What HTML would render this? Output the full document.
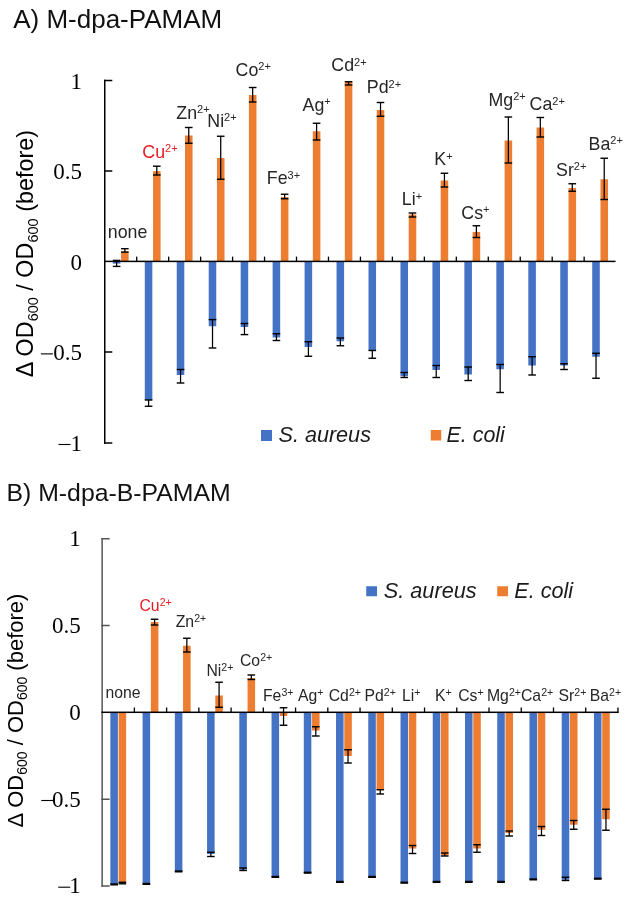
<!DOCTYPE html><html><head><meta charset="utf-8"><style>html,body{margin:0;padding:0;background:#fff;width:628px;height:901px;overflow:hidden}svg{display:block;will-change:transform;font-family:"Liberation Sans",sans-serif}.serif{font-family:"Liberation Serif",serif}</style></head><body><svg width="628" height="901" viewBox="0 0 628 901" class="root">
<rect width="628" height="901" fill="#fff"/>
<text x="13.2" y="28.2" font-size="26" fill="#111">A) M-dpa-PAMAM</text>
<text x="6.5" y="500.9" font-size="24.8" fill="#111">B) M-dpa-B-PAMAM</text>
<rect x="112.83" y="261.40" width="7.55" height="2.20" fill="#4472C4"/>
<rect x="121.08" y="251.50" width="7.55" height="9.90" fill="#ED7D31"/>
<rect x="144.79" y="261.40" width="7.55" height="138.60" fill="#4472C4"/>
<rect x="153.04" y="171.20" width="7.55" height="90.20" fill="#ED7D31"/>
<rect x="176.75" y="261.40" width="7.55" height="113.60" fill="#4472C4"/>
<rect x="185.00" y="135.50" width="7.55" height="125.90" fill="#ED7D31"/>
<rect x="208.71" y="261.40" width="7.55" height="64.85" fill="#4472C4"/>
<rect x="216.96" y="158.00" width="7.55" height="103.40" fill="#ED7D31"/>
<rect x="240.67" y="261.40" width="7.55" height="65.60" fill="#4472C4"/>
<rect x="248.92" y="95.00" width="7.55" height="166.40" fill="#ED7D31"/>
<rect x="272.63" y="261.40" width="7.55" height="76.10" fill="#4472C4"/>
<rect x="280.88" y="197.00" width="7.55" height="64.40" fill="#ED7D31"/>
<rect x="304.59" y="261.40" width="7.55" height="85.60" fill="#4472C4"/>
<rect x="312.84" y="131.25" width="7.55" height="130.15" fill="#ED7D31"/>
<rect x="336.55" y="261.40" width="7.55" height="79.85" fill="#4472C4"/>
<rect x="344.80" y="81.75" width="7.55" height="179.65" fill="#ED7D31"/>
<rect x="368.51" y="261.40" width="7.55" height="89.10" fill="#4472C4"/>
<rect x="376.76" y="110.00" width="7.55" height="151.40" fill="#ED7D31"/>
<rect x="400.47" y="261.40" width="7.55" height="114.85" fill="#4472C4"/>
<rect x="408.72" y="214.50" width="7.55" height="46.90" fill="#ED7D31"/>
<rect x="432.43" y="261.40" width="7.55" height="108.60" fill="#4472C4"/>
<rect x="440.68" y="180.50" width="7.55" height="80.90" fill="#ED7D31"/>
<rect x="464.39" y="261.40" width="7.55" height="113.10" fill="#4472C4"/>
<rect x="472.64" y="232.00" width="7.55" height="29.40" fill="#ED7D31"/>
<rect x="496.35" y="261.40" width="7.55" height="107.85" fill="#4472C4"/>
<rect x="504.60" y="140.50" width="7.55" height="120.90" fill="#ED7D31"/>
<rect x="528.31" y="261.40" width="7.55" height="104.10" fill="#4472C4"/>
<rect x="536.56" y="127.50" width="7.55" height="133.90" fill="#ED7D31"/>
<rect x="560.27" y="261.40" width="7.55" height="104.10" fill="#4472C4"/>
<rect x="568.52" y="188.00" width="7.55" height="73.40" fill="#ED7D31"/>
<rect x="592.23" y="261.40" width="7.55" height="95.35" fill="#4472C4"/>
<rect x="600.48" y="179.25" width="7.55" height="82.15" fill="#ED7D31"/>
<rect x="116.01" y="260.40" width="1.25" height="6.00" fill="#000"/>
<rect x="112.83" y="259.70" width="7.60" height="1.4" fill="#000"/>
<rect x="112.83" y="265.70" width="7.60" height="1.4" fill="#000"/>
<rect x="124.21" y="248.70" width="1.25" height="3.40" fill="#000"/>
<rect x="121.03" y="248.00" width="7.60" height="1.4" fill="#000"/>
<rect x="121.03" y="251.40" width="7.60" height="1.4" fill="#000"/>
<rect x="147.97" y="400.00" width="1.25" height="6.25" fill="#000"/>
<rect x="144.79" y="399.30" width="7.60" height="1.4" fill="#000"/>
<rect x="144.79" y="405.55" width="7.60" height="1.4" fill="#000"/>
<rect x="156.17" y="166.20" width="1.25" height="8.80" fill="#000"/>
<rect x="152.99" y="165.50" width="7.60" height="1.4" fill="#000"/>
<rect x="152.99" y="174.30" width="7.60" height="1.4" fill="#000"/>
<rect x="179.93" y="369.50" width="1.25" height="13.50" fill="#000"/>
<rect x="176.75" y="368.80" width="7.60" height="1.4" fill="#000"/>
<rect x="176.75" y="382.30" width="7.60" height="1.4" fill="#000"/>
<rect x="188.13" y="127.50" width="1.25" height="15.75" fill="#000"/>
<rect x="184.95" y="126.80" width="7.60" height="1.4" fill="#000"/>
<rect x="184.95" y="142.55" width="7.60" height="1.4" fill="#000"/>
<rect x="211.89" y="319.60" width="1.25" height="28.40" fill="#000"/>
<rect x="208.71" y="318.90" width="7.60" height="1.4" fill="#000"/>
<rect x="208.71" y="347.30" width="7.60" height="1.4" fill="#000"/>
<rect x="220.09" y="136.25" width="1.25" height="43.00" fill="#000"/>
<rect x="216.91" y="135.55" width="7.60" height="1.4" fill="#000"/>
<rect x="216.91" y="178.55" width="7.60" height="1.4" fill="#000"/>
<rect x="243.85" y="323.50" width="1.25" height="11.10" fill="#000"/>
<rect x="240.67" y="322.80" width="7.60" height="1.4" fill="#000"/>
<rect x="240.67" y="333.90" width="7.60" height="1.4" fill="#000"/>
<rect x="252.05" y="87.50" width="1.25" height="14.50" fill="#000"/>
<rect x="248.87" y="86.80" width="7.60" height="1.4" fill="#000"/>
<rect x="248.87" y="101.30" width="7.60" height="1.4" fill="#000"/>
<rect x="275.81" y="333.75" width="1.25" height="6.75" fill="#000"/>
<rect x="272.63" y="333.05" width="7.60" height="1.4" fill="#000"/>
<rect x="272.63" y="339.80" width="7.60" height="1.4" fill="#000"/>
<rect x="284.01" y="194.25" width="1.25" height="4.50" fill="#000"/>
<rect x="280.83" y="193.55" width="7.60" height="1.4" fill="#000"/>
<rect x="280.83" y="198.05" width="7.60" height="1.4" fill="#000"/>
<rect x="307.77" y="341.75" width="1.25" height="14.50" fill="#000"/>
<rect x="304.59" y="341.05" width="7.60" height="1.4" fill="#000"/>
<rect x="304.59" y="355.55" width="7.60" height="1.4" fill="#000"/>
<rect x="315.97" y="123.25" width="1.25" height="16.75" fill="#000"/>
<rect x="312.79" y="122.55" width="7.60" height="1.4" fill="#000"/>
<rect x="312.79" y="139.30" width="7.60" height="1.4" fill="#000"/>
<rect x="339.73" y="338.00" width="1.25" height="7.75" fill="#000"/>
<rect x="336.55" y="337.30" width="7.60" height="1.4" fill="#000"/>
<rect x="336.55" y="345.05" width="7.60" height="1.4" fill="#000"/>
<rect x="347.93" y="81.75" width="1.25" height="3.25" fill="#000"/>
<rect x="344.75" y="81.05" width="7.60" height="1.4" fill="#000"/>
<rect x="344.75" y="84.30" width="7.60" height="1.4" fill="#000"/>
<rect x="371.69" y="350.50" width="1.25" height="7.75" fill="#000"/>
<rect x="368.51" y="349.80" width="7.60" height="1.4" fill="#000"/>
<rect x="368.51" y="357.55" width="7.60" height="1.4" fill="#000"/>
<rect x="379.89" y="102.50" width="1.25" height="13.75" fill="#000"/>
<rect x="376.71" y="101.80" width="7.60" height="1.4" fill="#000"/>
<rect x="376.71" y="115.55" width="7.60" height="1.4" fill="#000"/>
<rect x="403.65" y="372.50" width="1.25" height="5.00" fill="#000"/>
<rect x="400.47" y="371.80" width="7.60" height="1.4" fill="#000"/>
<rect x="400.47" y="376.80" width="7.60" height="1.4" fill="#000"/>
<rect x="411.85" y="213.00" width="1.25" height="4.00" fill="#000"/>
<rect x="408.67" y="212.30" width="7.60" height="1.4" fill="#000"/>
<rect x="408.67" y="216.30" width="7.60" height="1.4" fill="#000"/>
<rect x="435.61" y="365.50" width="1.25" height="12.00" fill="#000"/>
<rect x="432.43" y="364.80" width="7.60" height="1.4" fill="#000"/>
<rect x="432.43" y="376.80" width="7.60" height="1.4" fill="#000"/>
<rect x="443.81" y="173.25" width="1.25" height="13.75" fill="#000"/>
<rect x="440.63" y="172.55" width="7.60" height="1.4" fill="#000"/>
<rect x="440.63" y="186.30" width="7.60" height="1.4" fill="#000"/>
<rect x="467.57" y="367.00" width="1.25" height="13.50" fill="#000"/>
<rect x="464.39" y="366.30" width="7.60" height="1.4" fill="#000"/>
<rect x="464.39" y="379.80" width="7.60" height="1.4" fill="#000"/>
<rect x="475.77" y="225.75" width="1.25" height="11.75" fill="#000"/>
<rect x="472.59" y="225.05" width="7.60" height="1.4" fill="#000"/>
<rect x="472.59" y="236.80" width="7.60" height="1.4" fill="#000"/>
<rect x="499.53" y="364.50" width="1.25" height="28.00" fill="#000"/>
<rect x="496.35" y="363.80" width="7.60" height="1.4" fill="#000"/>
<rect x="496.35" y="391.80" width="7.60" height="1.4" fill="#000"/>
<rect x="507.73" y="117.00" width="1.25" height="46.00" fill="#000"/>
<rect x="504.55" y="116.30" width="7.60" height="1.4" fill="#000"/>
<rect x="504.55" y="162.30" width="7.60" height="1.4" fill="#000"/>
<rect x="531.49" y="356.75" width="1.25" height="18.25" fill="#000"/>
<rect x="528.31" y="356.05" width="7.60" height="1.4" fill="#000"/>
<rect x="528.31" y="374.30" width="7.60" height="1.4" fill="#000"/>
<rect x="539.69" y="117.50" width="1.25" height="19.50" fill="#000"/>
<rect x="536.51" y="116.80" width="7.60" height="1.4" fill="#000"/>
<rect x="536.51" y="136.30" width="7.60" height="1.4" fill="#000"/>
<rect x="563.45" y="363.75" width="1.25" height="5.75" fill="#000"/>
<rect x="560.27" y="363.05" width="7.60" height="1.4" fill="#000"/>
<rect x="560.27" y="368.80" width="7.60" height="1.4" fill="#000"/>
<rect x="571.65" y="183.75" width="1.25" height="7.50" fill="#000"/>
<rect x="568.47" y="183.05" width="7.60" height="1.4" fill="#000"/>
<rect x="568.47" y="190.55" width="7.60" height="1.4" fill="#000"/>
<rect x="595.41" y="353.25" width="1.25" height="25.00" fill="#000"/>
<rect x="592.23" y="352.55" width="7.60" height="1.4" fill="#000"/>
<rect x="592.23" y="377.55" width="7.60" height="1.4" fill="#000"/>
<rect x="603.61" y="158.25" width="1.25" height="41.25" fill="#000"/>
<rect x="600.43" y="157.55" width="7.60" height="1.4" fill="#000"/>
<rect x="600.43" y="198.80" width="7.60" height="1.4" fill="#000"/>
<rect x="104.00" y="79.75" width="1.5" height="364.00" fill="#000"/>
<rect x="104.00" y="79.75" width="8.3" height="1.5" fill="#000"/>
<rect x="104.00" y="170.25" width="8.3" height="1.5" fill="#000"/>
<rect x="104.00" y="351.25" width="8.3" height="1.5" fill="#000"/>
<rect x="104.00" y="442.25" width="8.3" height="1.5" fill="#000"/>
<rect x="104.00" y="260.65" width="511.55" height="1.5" fill="#000"/>
<rect x="136.06" y="256.60" width="1.3" height="4.8" fill="#000"/>
<rect x="168.02" y="256.60" width="1.3" height="4.8" fill="#000"/>
<rect x="199.98" y="256.60" width="1.3" height="4.8" fill="#000"/>
<rect x="231.94" y="256.60" width="1.3" height="4.8" fill="#000"/>
<rect x="263.90" y="256.60" width="1.3" height="4.8" fill="#000"/>
<rect x="295.86" y="256.60" width="1.3" height="4.8" fill="#000"/>
<rect x="327.82" y="256.60" width="1.3" height="4.8" fill="#000"/>
<rect x="359.78" y="256.60" width="1.3" height="4.8" fill="#000"/>
<rect x="391.74" y="256.60" width="1.3" height="4.8" fill="#000"/>
<rect x="423.70" y="256.60" width="1.3" height="4.8" fill="#000"/>
<rect x="455.66" y="256.60" width="1.3" height="4.8" fill="#000"/>
<rect x="487.62" y="256.60" width="1.3" height="4.8" fill="#000"/>
<rect x="519.58" y="256.60" width="1.3" height="4.8" fill="#000"/>
<rect x="551.54" y="256.60" width="1.3" height="4.8" fill="#000"/>
<rect x="583.50" y="256.60" width="1.3" height="4.8" fill="#000"/>
<text x="107.80" y="237.60" font-size="17.8" fill="#262626">none<tspan font-size="11" dy="-5.4"></tspan></text>
<text x="142.30" y="157.60" font-size="17.8" fill="#E81C24">Cu<tspan font-size="11" dy="-5.4">2+</tspan></text>
<text x="176.30" y="118.75" font-size="17.8" fill="#262626">Zn<tspan font-size="11" dy="-5.4">2+</tspan></text>
<text x="207.30" y="126.50" font-size="17.8" fill="#262626">Ni<tspan font-size="11" dy="-5.4">2+</tspan></text>
<text x="235.55" y="75.50" font-size="17.8" fill="#262626">Co<tspan font-size="11" dy="-5.4">2+</tspan></text>
<text x="266.80" y="184.25" font-size="17.8" fill="#262626">Fe<tspan font-size="11" dy="-5.4">3+</tspan></text>
<text x="302.55" y="110.75" font-size="17.8" fill="#262626">Ag<tspan font-size="11" dy="-5.4">+</tspan></text>
<text x="331.30" y="71.25" font-size="17.8" fill="#262626">Cd<tspan font-size="11" dy="-5.4">2+</tspan></text>
<text x="366.80" y="93.00" font-size="17.8" fill="#262626">Pd<tspan font-size="11" dy="-5.4">2+</tspan></text>
<text x="401.80" y="205.00" font-size="17.8" fill="#262626">Li<tspan font-size="11" dy="-5.4">+</tspan></text>
<text x="434.30" y="165.00" font-size="17.8" fill="#262626">K<tspan font-size="11" dy="-5.4">+</tspan></text>
<text x="461.30" y="218.75" font-size="17.8" fill="#262626">Cs<tspan font-size="11" dy="-5.4">+</tspan></text>
<text x="488.55" y="105.50" font-size="17.8" fill="#262626">Mg<tspan font-size="11" dy="-5.4">2+</tspan></text>
<text x="529.55" y="110.00" font-size="17.8" fill="#262626">Ca<tspan font-size="11" dy="-5.4">2+</tspan></text>
<text x="556.05" y="175.50" font-size="17.8" fill="#262626">Sr<tspan font-size="11" dy="-5.4">2+</tspan></text>
<text x="588.55" y="149.50" font-size="17.8" fill="#262626">Ba<tspan font-size="11" dy="-5.4">2+</tspan></text>
<text x="82.10" y="88.60" class="serif" font-size="23" text-anchor="end" fill="#000">1</text>
<text x="82.10" y="179.10" class="serif" font-size="23" text-anchor="end" fill="#000">0.5</text>
<text x="82.10" y="269.60" class="serif" font-size="23" text-anchor="end" fill="#000">0</text>
<rect x="40.90" y="353.35" width="12.0" height="1.1" fill="#000"/>
<text x="82.10" y="360.10" class="serif" font-size="23" text-anchor="end" fill="#000">0.5</text>
<rect x="58.50" y="443.95" width="12.0" height="1.1" fill="#000"/>
<text x="82.10" y="450.60" class="serif" font-size="23" text-anchor="end" fill="#000">1</text>
<g transform="translate(33.00,253.60) rotate(-90)"><text x="0" y="0" text-anchor="middle" font-size="23.4" fill="#000">Δ OD<tspan font-size="14.5" dy="4.7">600</tspan><tspan dy="-4.7"> / OD</tspan><tspan font-size="14.5" dy="4.7">600</tspan><tspan dy="-4.7"> (before)</tspan></text></g>
<rect x="261.00" y="430.00" width="11.00" height="11.00" fill="#4472C4"/>
<text x="278.5" y="442" font-size="21.6" font-style="italic" fill="#1a1a1a">S. aureus</text>
<rect x="430.75" y="430.00" width="10.50" height="10.50" fill="#ED7D31"/>
<text x="446.6" y="442" font-size="21.4" font-style="italic" fill="#1a1a1a">E. coli</text>
<rect x="110.35" y="712.30" width="7.55" height="172.45" fill="#4472C4"/>
<rect x="118.60" y="712.30" width="7.55" height="170.70" fill="#ED7D31"/>
<rect x="142.59" y="712.30" width="7.55" height="171.95" fill="#4472C4"/>
<rect x="150.84" y="622.00" width="7.55" height="90.30" fill="#ED7D31"/>
<rect x="174.83" y="712.30" width="7.55" height="159.45" fill="#4472C4"/>
<rect x="183.08" y="645.75" width="7.55" height="66.55" fill="#ED7D31"/>
<rect x="207.07" y="712.30" width="7.55" height="141.70" fill="#4472C4"/>
<rect x="215.32" y="695.50" width="7.55" height="16.80" fill="#ED7D31"/>
<rect x="239.31" y="712.30" width="7.55" height="157.45" fill="#4472C4"/>
<rect x="247.56" y="678.00" width="7.55" height="34.30" fill="#ED7D31"/>
<rect x="271.55" y="712.30" width="7.55" height="164.95" fill="#4472C4"/>
<rect x="279.80" y="712.30" width="7.55" height="3.70" fill="#ED7D31"/>
<rect x="303.79" y="712.30" width="7.55" height="160.70" fill="#4472C4"/>
<rect x="312.04" y="712.30" width="7.55" height="18.20" fill="#ED7D31"/>
<rect x="336.03" y="712.30" width="7.55" height="169.95" fill="#4472C4"/>
<rect x="344.28" y="712.30" width="7.55" height="43.70" fill="#ED7D31"/>
<rect x="368.27" y="712.30" width="7.55" height="164.95" fill="#4472C4"/>
<rect x="376.52" y="712.30" width="7.55" height="77.45" fill="#ED7D31"/>
<rect x="400.51" y="712.30" width="7.55" height="170.70" fill="#4472C4"/>
<rect x="408.76" y="712.30" width="7.55" height="136.20" fill="#ED7D31"/>
<rect x="432.75" y="712.30" width="7.55" height="169.95" fill="#4472C4"/>
<rect x="441.00" y="712.30" width="7.55" height="143.20" fill="#ED7D31"/>
<rect x="464.99" y="712.30" width="7.55" height="169.95" fill="#4472C4"/>
<rect x="473.24" y="712.30" width="7.55" height="136.20" fill="#ED7D31"/>
<rect x="497.23" y="712.30" width="7.55" height="169.95" fill="#4472C4"/>
<rect x="505.48" y="712.30" width="7.55" height="120.70" fill="#ED7D31"/>
<rect x="529.47" y="712.30" width="7.55" height="167.45" fill="#4472C4"/>
<rect x="537.72" y="712.30" width="7.55" height="117.45" fill="#ED7D31"/>
<rect x="561.71" y="712.30" width="7.55" height="167.45" fill="#4472C4"/>
<rect x="569.96" y="712.30" width="7.55" height="112.45" fill="#ED7D31"/>
<rect x="593.95" y="712.30" width="7.55" height="166.70" fill="#4472C4"/>
<rect x="602.20" y="712.30" width="7.55" height="106.95" fill="#ED7D31"/>
<rect x="113.53" y="884.00" width="1.25" height="0.80" fill="#000"/>
<rect x="110.35" y="883.30" width="7.60" height="1.4" fill="#000"/>
<rect x="110.35" y="884.10" width="7.60" height="1.4" fill="#000"/>
<rect x="121.73" y="882.30" width="1.25" height="1.50" fill="#000"/>
<rect x="118.55" y="881.60" width="7.60" height="1.4" fill="#000"/>
<rect x="118.55" y="883.10" width="7.60" height="1.4" fill="#000"/>
<rect x="145.77" y="883.50" width="1.25" height="0.80" fill="#000"/>
<rect x="142.59" y="882.80" width="7.60" height="1.4" fill="#000"/>
<rect x="142.59" y="883.60" width="7.60" height="1.4" fill="#000"/>
<rect x="153.97" y="619.25" width="1.25" height="5.75" fill="#000"/>
<rect x="150.79" y="618.55" width="7.60" height="1.4" fill="#000"/>
<rect x="150.79" y="624.30" width="7.60" height="1.4" fill="#000"/>
<rect x="178.01" y="871.00" width="1.25" height="0.80" fill="#000"/>
<rect x="174.83" y="870.30" width="7.60" height="1.4" fill="#000"/>
<rect x="174.83" y="871.10" width="7.60" height="1.4" fill="#000"/>
<rect x="186.21" y="638.25" width="1.25" height="13.75" fill="#000"/>
<rect x="183.03" y="637.55" width="7.60" height="1.4" fill="#000"/>
<rect x="183.03" y="651.30" width="7.60" height="1.4" fill="#000"/>
<rect x="210.25" y="852.25" width="1.25" height="4.25" fill="#000"/>
<rect x="207.07" y="851.55" width="7.60" height="1.4" fill="#000"/>
<rect x="207.07" y="855.80" width="7.60" height="1.4" fill="#000"/>
<rect x="218.45" y="682.25" width="1.25" height="25.00" fill="#000"/>
<rect x="215.27" y="681.55" width="7.60" height="1.4" fill="#000"/>
<rect x="215.27" y="706.55" width="7.60" height="1.4" fill="#000"/>
<rect x="242.49" y="868.00" width="1.25" height="2.50" fill="#000"/>
<rect x="239.31" y="867.30" width="7.60" height="1.4" fill="#000"/>
<rect x="239.31" y="869.80" width="7.60" height="1.4" fill="#000"/>
<rect x="250.69" y="675.00" width="1.25" height="4.50" fill="#000"/>
<rect x="247.51" y="674.30" width="7.60" height="1.4" fill="#000"/>
<rect x="247.51" y="678.80" width="7.60" height="1.4" fill="#000"/>
<rect x="274.73" y="876.50" width="1.25" height="0.80" fill="#000"/>
<rect x="271.55" y="875.80" width="7.60" height="1.4" fill="#000"/>
<rect x="271.55" y="876.60" width="7.60" height="1.4" fill="#000"/>
<rect x="282.93" y="707.75" width="1.25" height="17.50" fill="#000"/>
<rect x="279.75" y="707.05" width="7.60" height="1.4" fill="#000"/>
<rect x="279.75" y="724.55" width="7.60" height="1.4" fill="#000"/>
<rect x="306.97" y="872.30" width="1.25" height="0.80" fill="#000"/>
<rect x="303.79" y="871.60" width="7.60" height="1.4" fill="#000"/>
<rect x="303.79" y="872.40" width="7.60" height="1.4" fill="#000"/>
<rect x="315.17" y="726.75" width="1.25" height="9.25" fill="#000"/>
<rect x="311.99" y="726.05" width="7.60" height="1.4" fill="#000"/>
<rect x="311.99" y="735.30" width="7.60" height="1.4" fill="#000"/>
<rect x="339.21" y="881.50" width="1.25" height="0.80" fill="#000"/>
<rect x="336.03" y="880.80" width="7.60" height="1.4" fill="#000"/>
<rect x="336.03" y="881.60" width="7.60" height="1.4" fill="#000"/>
<rect x="347.41" y="749.75" width="1.25" height="13.25" fill="#000"/>
<rect x="344.23" y="749.05" width="7.60" height="1.4" fill="#000"/>
<rect x="344.23" y="762.30" width="7.60" height="1.4" fill="#000"/>
<rect x="371.45" y="876.50" width="1.25" height="0.80" fill="#000"/>
<rect x="368.27" y="875.80" width="7.60" height="1.4" fill="#000"/>
<rect x="368.27" y="876.60" width="7.60" height="1.4" fill="#000"/>
<rect x="379.65" y="789.75" width="1.25" height="4.25" fill="#000"/>
<rect x="376.47" y="789.05" width="7.60" height="1.4" fill="#000"/>
<rect x="376.47" y="793.30" width="7.60" height="1.4" fill="#000"/>
<rect x="403.69" y="882.30" width="1.25" height="0.80" fill="#000"/>
<rect x="400.51" y="881.60" width="7.60" height="1.4" fill="#000"/>
<rect x="400.51" y="882.40" width="7.60" height="1.4" fill="#000"/>
<rect x="411.89" y="845.50" width="1.25" height="8.00" fill="#000"/>
<rect x="408.71" y="844.80" width="7.60" height="1.4" fill="#000"/>
<rect x="408.71" y="852.80" width="7.60" height="1.4" fill="#000"/>
<rect x="435.93" y="881.50" width="1.25" height="0.80" fill="#000"/>
<rect x="432.75" y="880.80" width="7.60" height="1.4" fill="#000"/>
<rect x="432.75" y="881.60" width="7.60" height="1.4" fill="#000"/>
<rect x="444.13" y="853.00" width="1.25" height="3.00" fill="#000"/>
<rect x="440.95" y="852.30" width="7.60" height="1.4" fill="#000"/>
<rect x="440.95" y="855.30" width="7.60" height="1.4" fill="#000"/>
<rect x="468.17" y="881.50" width="1.25" height="0.80" fill="#000"/>
<rect x="464.99" y="880.80" width="7.60" height="1.4" fill="#000"/>
<rect x="464.99" y="881.60" width="7.60" height="1.4" fill="#000"/>
<rect x="476.37" y="844.75" width="1.25" height="7.50" fill="#000"/>
<rect x="473.19" y="844.05" width="7.60" height="1.4" fill="#000"/>
<rect x="473.19" y="851.55" width="7.60" height="1.4" fill="#000"/>
<rect x="500.41" y="881.50" width="1.25" height="0.80" fill="#000"/>
<rect x="497.23" y="880.80" width="7.60" height="1.4" fill="#000"/>
<rect x="497.23" y="881.60" width="7.60" height="1.4" fill="#000"/>
<rect x="508.61" y="831.00" width="1.25" height="5.00" fill="#000"/>
<rect x="505.43" y="830.30" width="7.60" height="1.4" fill="#000"/>
<rect x="505.43" y="835.30" width="7.60" height="1.4" fill="#000"/>
<rect x="532.65" y="879.00" width="1.25" height="0.80" fill="#000"/>
<rect x="529.47" y="878.30" width="7.60" height="1.4" fill="#000"/>
<rect x="529.47" y="879.10" width="7.60" height="1.4" fill="#000"/>
<rect x="540.85" y="826.50" width="1.25" height="9.00" fill="#000"/>
<rect x="537.67" y="825.80" width="7.60" height="1.4" fill="#000"/>
<rect x="537.67" y="834.80" width="7.60" height="1.4" fill="#000"/>
<rect x="564.89" y="877.25" width="1.25" height="3.25" fill="#000"/>
<rect x="561.71" y="876.55" width="7.60" height="1.4" fill="#000"/>
<rect x="561.71" y="879.80" width="7.60" height="1.4" fill="#000"/>
<rect x="573.09" y="820.50" width="1.25" height="8.75" fill="#000"/>
<rect x="569.91" y="819.80" width="7.60" height="1.4" fill="#000"/>
<rect x="569.91" y="828.55" width="7.60" height="1.4" fill="#000"/>
<rect x="597.13" y="878.30" width="1.25" height="0.80" fill="#000"/>
<rect x="593.95" y="877.60" width="7.60" height="1.4" fill="#000"/>
<rect x="593.95" y="878.40" width="7.60" height="1.4" fill="#000"/>
<rect x="605.33" y="809.25" width="1.25" height="21.00" fill="#000"/>
<rect x="602.15" y="808.55" width="7.60" height="1.4" fill="#000"/>
<rect x="602.15" y="829.55" width="7.60" height="1.4" fill="#000"/>
<rect x="101.38" y="538.00" width="1.5" height="348.75" fill="#555"/>
<rect x="101.38" y="538.00" width="8.3" height="1.5" fill="#555"/>
<rect x="101.38" y="624.75" width="8.3" height="1.5" fill="#555"/>
<rect x="101.38" y="798.50" width="8.3" height="1.5" fill="#555"/>
<rect x="101.38" y="885.25" width="8.3" height="1.5" fill="#555"/>
<rect x="101.38" y="711.55" width="517.34" height="1.5" fill="#000"/>
<rect x="133.72" y="707.50" width="1.3" height="4.8" fill="#000"/>
<rect x="165.96" y="707.50" width="1.3" height="4.8" fill="#000"/>
<rect x="198.20" y="707.50" width="1.3" height="4.8" fill="#000"/>
<rect x="230.44" y="707.50" width="1.3" height="4.8" fill="#000"/>
<rect x="262.68" y="707.50" width="1.3" height="4.8" fill="#000"/>
<rect x="294.92" y="707.50" width="1.3" height="4.8" fill="#000"/>
<rect x="327.16" y="707.50" width="1.3" height="4.8" fill="#000"/>
<rect x="359.40" y="707.50" width="1.3" height="4.8" fill="#000"/>
<rect x="391.64" y="707.50" width="1.3" height="4.8" fill="#000"/>
<rect x="423.88" y="707.50" width="1.3" height="4.8" fill="#000"/>
<rect x="456.12" y="707.50" width="1.3" height="4.8" fill="#000"/>
<rect x="488.36" y="707.50" width="1.3" height="4.8" fill="#000"/>
<rect x="520.60" y="707.50" width="1.3" height="4.8" fill="#000"/>
<rect x="552.84" y="707.50" width="1.3" height="4.8" fill="#000"/>
<rect x="585.08" y="707.50" width="1.3" height="4.8" fill="#000"/>
<rect x="617.32" y="707.50" width="1.3" height="4.8" fill="#000"/>
<text x="105.50" y="697.50" font-size="15.75" fill="#262626">none<tspan font-size="10.6" dy="-5.0"></tspan></text>
<text x="139.50" y="610.50" font-size="15.75" fill="#E81C24">Cu<tspan font-size="10.6" dy="-5.0">2+</tspan></text>
<text x="175.75" y="627.00" font-size="15.75" fill="#262626">Zn<tspan font-size="10.6" dy="-5.0">2+</tspan></text>
<text x="206.40" y="675.50" font-size="15.75" fill="#262626">Ni<tspan font-size="10.6" dy="-5.0">2+</tspan></text>
<text x="240.00" y="665.75" font-size="15.75" fill="#262626">Co<tspan font-size="10.6" dy="-5.0">2+</tspan></text>
<text x="263.00" y="701.00" font-size="15.75" fill="#262626">Fe<tspan font-size="10.6" dy="-5.0">3+</tspan></text>
<text x="298.00" y="701.00" font-size="15.75" fill="#262626">Ag<tspan font-size="10.6" dy="-5.0">+</tspan></text>
<text x="328.75" y="701.00" font-size="15.75" fill="#262626">Cd<tspan font-size="10.6" dy="-5.0">2+</tspan></text>
<text x="364.50" y="701.00" font-size="15.75" fill="#262626">Pd<tspan font-size="10.6" dy="-5.0">2+</tspan></text>
<text x="402.00" y="701.00" font-size="15.75" fill="#262626">Li<tspan font-size="10.6" dy="-5.0">+</tspan></text>
<text x="435.00" y="701.00" font-size="15.75" fill="#262626">K<tspan font-size="10.6" dy="-5.0">+</tspan></text>
<text x="458.25" y="701.00" font-size="15.75" fill="#262626">Cs<tspan font-size="10.6" dy="-5.0">+</tspan></text>
<text x="487.00" y="701.00" font-size="15.75" fill="#262626">Mg<tspan font-size="10.6" dy="-5.0">2+</tspan></text>
<text x="521.00" y="701.00" font-size="15.75" fill="#262626">Ca<tspan font-size="10.6" dy="-5.0">2+</tspan></text>
<text x="558.50" y="701.00" font-size="15.75" fill="#262626">Sr<tspan font-size="10.6" dy="-5.0">2+</tspan></text>
<text x="589.75" y="701.00" font-size="15.75" fill="#262626">Ba<tspan font-size="10.6" dy="-5.0">2+</tspan></text>
<text x="80.80" y="546.30" class="serif" font-size="23" text-anchor="end" fill="#000">1</text>
<text x="80.80" y="633.10" class="serif" font-size="23" text-anchor="end" fill="#000">0.5</text>
<text x="80.80" y="719.60" class="serif" font-size="23" text-anchor="end" fill="#000">0</text>
<rect x="41.30" y="799.95" width="12.0" height="1.1" fill="#000"/>
<text x="80.80" y="806.90" class="serif" font-size="23" text-anchor="end" fill="#000">0.5</text>
<rect x="58.20" y="886.65" width="12.0" height="1.1" fill="#000"/>
<text x="80.80" y="893.30" class="serif" font-size="23" text-anchor="end" fill="#000">1</text>
<g transform="translate(23.00,710.50) rotate(-90)"><text x="0" y="0" text-anchor="middle" font-size="22" fill="#000">Δ OD<tspan font-size="14" dy="4.4">600</tspan><tspan dy="-4.4"> / OD</tspan><tspan font-size="14" dy="4.4">600</tspan><tspan dy="-4.4"> (before)</tspan></text></g>
<rect x="366.25" y="586.25" width="10.75" height="10.00" fill="#4472C4"/>
<text x="383.8" y="597.5" font-size="21.7" font-style="italic" fill="#1a1a1a">S. aureus</text>
<rect x="497.25" y="586.25" width="10.75" height="10.00" fill="#ED7D31"/>
<text x="514.3" y="597.5" font-size="21.6" font-style="italic" fill="#1a1a1a">E. coli</text>
</svg></body></html>
